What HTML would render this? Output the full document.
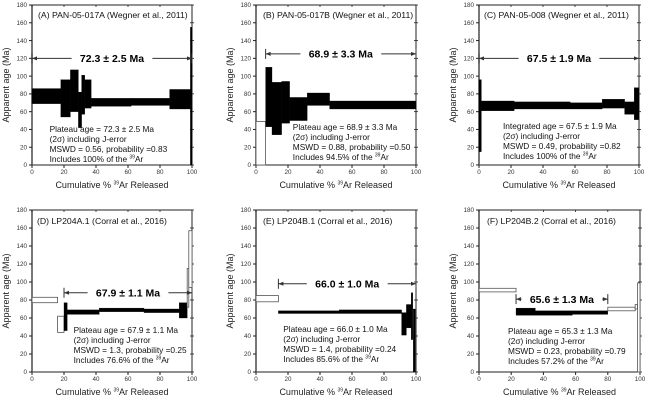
<!DOCTYPE html>
<html><head><meta charset="utf-8"><style>
html,body{margin:0;padding:0;background:#fff}
svg{display:block;font-family:"Liberation Sans",Arial,sans-serif}
</style></head><body>
<svg id="fig" width="650" height="402" viewBox="0 0 650 402" xmlns="http://www.w3.org/2000/svg"></svg>
<script>
const xTicks=[0,20,40,60,80,100];
const yTicks=[0,20,40,60,80,100,120,140,160,180];
// steps: [startPct, endPct, lowAge, highAge, filled(1)/open(0)]
const stepsA=[[0,18,69,86,1],[18,24,54,96,1],[24,29,60,107,1],[29,31,42,82,1],[31,33,57,101,1],[33,37,64,96,1],[37,62,66,75,1],[62,86,67,75,1],[86,99,63,85,1],[99,100,0,155,1]];
const stepsB=[[0,6,0,49,0],[6,10,43,110,1],[10,16,34,93,1],[16,21,47,94,1],[21,32,50,76,1],[32,46,67,81,1],[46,100,63,72,1]];
const stepsC=[[0,1.5,15,96,1],[1.5,22,61,72,1],[22,57,63,71,1],[57,77,63,70,1],[77,91,64,74,1],[91,97,57,71,1],[97,100,51,87,1]];
const stepsD=[[0,16,77,83,0],[16,20,44,62,0],[20,22,46,77,1],[22,42,64,69,1],[42,70,67,71,1],[70,92,66,70,1],[92,97,60,77,1],[97,98,72,115,0],[98,100,94,157,0]];
const stepsE=[[0,14,78,85,0],[14,52,65,68,1],[52,91,65,69,1],[91,94,41,66,1],[94,97,49,75,1],[97,98,36,88,1],[98.3,99.5,0,70,1]];
const stepsF=[[0,23,89,93,0],[23,35,63,71,1],[35,58,63,68,1],[58,80,64,68,1],[80,97,68,72,0],[97,98.5,70,75,0],[98.5,100,0,99,0]];
const plateauLabels=["72.3 ± 2.5 Ma","68.9 ± 3.3 Ma","67.5 ± 1.9 Ma","67.9 ± 1.1 Ma","66.0 ± 1.0 Ma","65.6 ± 1.3 Ma"];
const plateauFrom=[0,6,0,20,14,23];
const plateauTo=[100,100,100,100,100,80];
const plateauAge=[120,125,120,88,98,81];
const titles=["(A) PAN-05-017A (Wegner et al., 2011)","(B) PAN-05-017B (Wegner et al., 2011)","(C) PAN-05-008 (Wegner et al., 2011)","(D) LP204A.1 (Corral et al., 2016)","(E) LP204B.1 (Corral et al., 2016)","(F) LP204B.2 (Corral et al., 2016)"];
const notes=[
["Plateau age = 72.3 ± 2.5 Ma","(2σ) including J-error","MSWD = 0.56, probability =0.83","Includes 100% of the "],
["Plateau age = 68.9 ± 3.3 Ma","(2σ) including J-error","MSWD = 0.88, probability =0.50","Includes 94.5% of the "],
["Integrated age = 67.5 ± 1.9 Ma","(2σ) including J-error","MSWD = 0.49, probability =0.82","Includes 100% of the "],
["Plateau age = 67.9 ± 1.1 Ma","(2σ) including J-error","MSWD = 1.3, probability =0.25","Includes 76.6% of the "],
["Plateau age = 66.0 ± 1.0 Ma","(2σ) including J-error","MSWD = 1.4, probability =0.24","Includes 85.6% of the "],
["Plateau age = 65.3 ± 1.3 Ma","(2σ) including J-error","MSWD = 0.23, probability =0.79","Includes 57.2% of the "]];
const allSteps=[stepsA,stepsB,stepsC,stepsD,stepsE,stepsF];
const boxes=[[32,192,5,165],[256,416,5,165],[479,639,5,165],[32,192,210,372],[256,416,210,372],[479,640,210,372]];
const noteX=[11,23,15,26,17,18];
const noteY=[132,130,129,333,332,334];
const titleX=[38,263,484,37,263,487];
const titleY=[18,18,18,224,224,224];
const NS="http://www.w3.org/2000/svg";
const svg=document.getElementById('fig');
function mk(tag,attrs,parent,text){const e=document.createElementNS(NS,tag);for(const k in attrs)e.setAttribute(k,attrs[k]);if(text!==undefined)e.textContent=text;(parent||svg).appendChild(e);return e;}
const names=['a','b','c','d','e','f'];
allSteps.forEach((steps,p)=>{
  const [x0,x1,y0,y1]=boxes[p];
  const sx=v=>x0+(x1-x0)*v/100, sy=v=>y1-(y1-y0)*v/180;
  const g=mk('g',{});
  
  
  const fr=mk('rect',{x:x0,y:y0,width:x1-x0,height:y1-y0,fill:'none',stroke:'#222','stroke-width':1},g);
  
  
  mk('line',{x1:x0,y1:y0,x2:x0,y2:y1,stroke:'#555','stroke-width':1.6},g);
  yTicks.forEach(t=>{
    mk('line',{x1:x0-3,y1:sy(t),x2:x0,y2:sy(t),stroke:'#222','stroke-width':1},g);
    mk('line',{x1:x1-2,y1:sy(t),x2:x1+2,y2:sy(t),stroke:'#222','stroke-width':0.8},g);
    const tl=mk('text',{x:x0-5,y:sy(t)+2.2,'font-size':6.3,'text-anchor':'end',fill:'#333'},g,String(t));
    
    
  });
  xTicks.forEach(t=>{
    mk('line',{x1:sx(t),y1:y1,x2:sx(t),y2:y1+3,stroke:'#222','stroke-width':1},g);
    mk('line',{x1:sx(t),y1:y0,x2:sx(t),y2:y0+2,stroke:'#222','stroke-width':0.8},g);
    const tl=mk('text',{x:sx(t),y:y1+9,'font-size':6.3,'text-anchor':'middle',fill:'#333'},g,String(t));
    
    
  });
  steps.forEach(s=>{
    const r=mk('rect',{x:sx(s[0]),y:sy(s[3]),width:Math.max(0.8,sx(s[1])-sx(s[0])),height:sy(s[2])-sy(s[3]),
      fill:s[4]?'#000':'#fff',stroke:s[4]?'#000':'#555','stroke-width':s[4]?0.3:0.8},g);
    
    
  });
  const ay=sy(plateauAge[p]), ax0=sx(plateauFrom[p]), ax1=sx(plateauTo[p]);
  const ar=mk('g',{},g);
  
  
  mk('line',{x1:ax0,y1:ay,x2:ax1,y2:ay,stroke:'#333','stroke-width':1},ar);
  mk('line',{x1:ax0,y1:ay-5,x2:ax0,y2:ay+5,stroke:'#333','stroke-width':1},ar);
  mk('line',{x1:ax1,y1:ay-5,x2:ax1,y2:ay+5,stroke:'#333','stroke-width':1},ar);
  mk('path',{d:`M${ax0},${ay}l5,-2v4z M${ax1},${ay}l-5,-2v4z`,fill:'#333'},ar);
  const cx=(ax0+ax1)/2, lbl=plateauLabels[p], w=lbl.length*5.6+8;
  mk('rect',{x:cx-w/2,y:ay-6,width:w,height:12,fill:'#fff'},ar);
  const pl=mk('text',{x:cx,y:ay+3.8,'font-size':10.5,'font-weight':'bold','text-anchor':'middle',fill:'#000'},ar,lbl);
  
  
  const tt=mk('text',{x:titleX[p],y:titleY[p],'font-size':8.7,fill:'#111'},g,titles[p]);
  
  
  const nt=mk('text',{x:sx(noteX[p]),y:noteY[p],'font-size':8.3,fill:'#111'},g);
  
  
  notes[p].forEach((ln,i)=>{
    mk('tspan',{x:sx(noteX[p]),y:noteY[p]+i*10},nt,ln);
    if(i===3){mk('tspan',{'font-size':5,dy:-3.5},nt,'39');mk('tspan',{dy:3.5},nt,'Ar');}
  });
  const yl=mk('text',{x:0,y:0,'font-size':9,'text-anchor':'middle',fill:'#222',transform:`translate(${x0-23},${(y0+y1)/2}) rotate(-90)`},g,'Apparent age (Ma)');
  
  
  const xl=mk('text',{x:(x0+x1)/2,y:y1+23,'font-size':9,'text-anchor':'middle',fill:'#222'},g);
  
  
  mk('tspan',{},xl,'Cumulative % ');
  mk('tspan',{'font-size':5,dy:-3.5},xl,'39');
  mk('tspan',{dy:3.5},xl,'Ar Released');
});
</script>
</body></html>
